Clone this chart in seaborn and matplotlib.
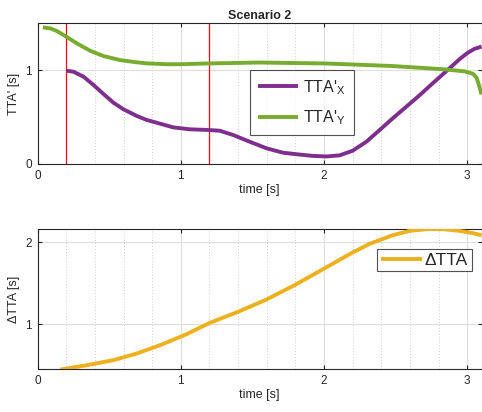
import pandas as pd
import matplotlib
matplotlib.use("Agg")
import matplotlib.pyplot as plt
import seaborn as sns
from matplotlib.ticker import MultipleLocator

sns.set_style("white")
plt.rcParams['font.family'] = ['Liberation Sans', 'DejaVu Sans']
plt.rcParams['mathtext.fontset'] = 'custom'
plt.rcParams['mathtext.rm'] = 'Liberation Sans'
plt.rcParams['mathtext.it'] = 'Liberation Sans'
plt.rcParams['mathtext.default'] = 'regular'

# ---- Data ----
tx_time = [0.2, 0.251, 0.321, 0.391, 0.46, 0.53, 0.6, 0.693, 0.763, 0.83, 0.946,
           1.063, 1.19, 1.272, 1.365, 1.481, 1.598, 1.714, 1.83, 1.923, 2.017,
           2.11, 2.2, 2.296, 2.389, 2.48, 2.575, 2.67, 2.76, 2.87, 2.95, 3.0,
           3.05, 3.1]
tx_vals = [0.993, 0.982, 0.929, 0.84, 0.745, 0.652, 0.582, 0.511, 0.468, 0.44, 0.39,
           0.369, 0.362, 0.354, 0.309, 0.237, 0.167, 0.12, 0.1, 0.086, 0.08,
           0.092, 0.141, 0.237, 0.362, 0.486, 0.61, 0.735, 0.86, 1.01, 1.12, 1.18,
           1.225, 1.25]

ty_time = [0.037, 0.088, 0.135, 0.193, 0.274, 0.367, 0.46, 0.576, 0.693, 0.763,
           0.9, 1.0, 1.19, 1.545, 2.01, 2.474, 2.846, 2.985, 3.04, 3.065, 3.08, 3.1]
ty_vals = [1.454, 1.444, 1.415, 1.362, 1.284, 1.205, 1.149, 1.106, 1.082, 1.071,
           1.062, 1.062, 1.07, 1.08, 1.07, 1.043, 1.007, 0.985, 0.96, 0.92, 0.85, 0.74]

dtta_time = [0.158, 0.344, 0.53, 0.693, 0.856, 1.042, 1.202, 1.4, 1.598, 1.796,
             1.993, 2.19, 2.319, 2.48, 2.598, 2.715, 2.83, 2.947, 3.04, 3.1]
dtta_vals = [0.445, 0.498, 0.56, 0.641, 0.743, 0.878, 1.015, 1.15, 1.3, 1.477,
             1.67, 1.865, 1.98, 2.085, 2.138, 2.159, 2.159, 2.138, 2.11, 2.085]

event_times = [0.2, 1.2]

title = "Scenario 2"
label_x = r"TTA'$_{X}$"
label_y = r"TTA'$_{Y}$"
label_d = "\u0394TTA"

purple = "#7E2F8E"
green = "#77AC30"
orange = "#EDB120"
txt = '#262626'

fig = plt.figure(figsize=(4.82, 4.12), dpi=100)
ax1 = fig.add_axes([0.078, 0.602, 0.921, 0.342])
ax2 = fig.add_axes([0.078, 0.104, 0.921, 0.340])


def style(ax):
    ax.xaxis.set_major_locator(MultipleLocator(1))
    ax.xaxis.set_minor_locator(MultipleLocator(0.2))
    ax.yaxis.set_major_locator(MultipleLocator(1))
    ax.grid(True, which='major', color='#dedede', lw=0.8, ls='-')
    ax.grid(True, which='minor', axis='x', color='#bdbdbd', lw=0.6, ls=(0, (1, 2.5)))
    ax.set_axisbelow(True)
    ax.tick_params(which='both', direction='in', top=True, right=True,
                   labelsize=8.5, colors=txt, length=3, pad=4,
                   bottom=True, left=True)
    ax.tick_params(which='minor', length=0)
    for s in ax.spines.values():
        s.set_color(txt)
        s.set_linewidth(0.8)
    ax.set_xlabel("time [s]", fontsize=9, color=txt, labelpad=2)


df_x = pd.DataFrame({"time": tx_time, "v": tx_vals})
df_y = pd.DataFrame({"time": ty_time, "v": ty_vals})
df_d = pd.DataFrame({"time": dtta_time, "v": dtta_vals})

for t in event_times:
    ax1.axvline(t, color='#ff0000', lw=0.9, zorder=1.5)

sns.lineplot(data=df_x, x="time", y="v", ax=ax1, color=purple, lw=2.8,
             label=label_x, sort=False, zorder=3)
sns.lineplot(data=df_y, x="time", y="v", ax=ax1, color=green, lw=2.8,
             label=label_y, sort=False, zorder=3)
sns.lineplot(data=df_d, x="time", y="v", ax=ax2, color=orange, lw=2.8,
             label=label_d, sort=False, zorder=3)

for ln in ax1.get_lines() + ax2.get_lines():
    ln.set_solid_joinstyle('round')
    ln.set_solid_capstyle('butt')

ax1.set_xlim(0, 3.1)
ax1.set_ylim(0, 1.5)
ax2.set_xlim(0, 3.1)
ax2.set_ylim(0.45, 2.16)
style(ax1)
style(ax2)
ax1.set_ylabel("TTA' [s]", fontsize=9, color=txt, labelpad=4)
ax2.set_ylabel("\u0394TTA [s]", fontsize=9, color=txt, labelpad=4)
ax1.set_title(title, fontsize=9, fontweight='bold', color=txt, pad=3)

leg1 = ax1.legend(loc='upper left', bbox_to_anchor=(0.479, 0.667), fontsize=11.5,
                  frameon=True, fancybox=False, handlelength=2.5,
                  borderpad=0.5, labelspacing=0.75, handletextpad=0.3,
                  borderaxespad=0)
leg1.get_frame().set_edgecolor(txt)
leg1.get_frame().set_linewidth(0.8)

leg2 = ax2.legend(loc='upper left', bbox_to_anchor=(0.765, 0.857), fontsize=12.5,
                  frameon=True, fancybox=False, handlelength=2.4,
                  borderpad=0.2, handletextpad=0.15, borderaxespad=0)
leg2.get_frame().set_edgecolor(txt)
leg2.get_frame().set_linewidth(0.8)

fig.savefig("out.png", dpi=100)
